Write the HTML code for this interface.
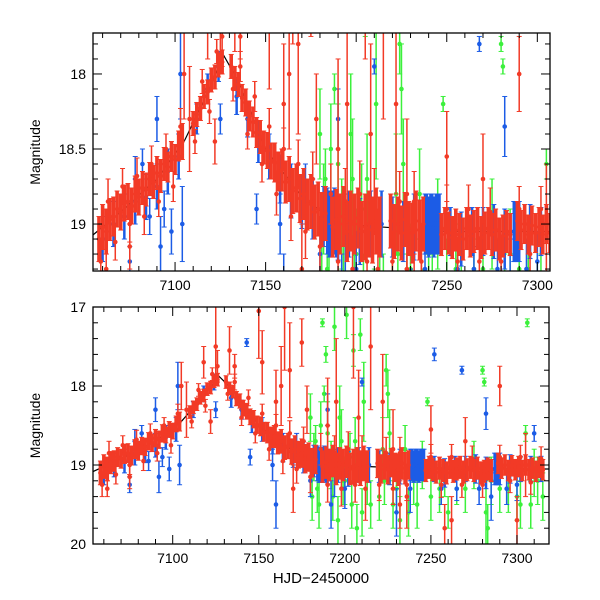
<!DOCTYPE html>
<html><head><meta charset="utf-8">
<style>
html,body{margin:0;padding:0;background:#fff;}
svg{display:block;font-family:"Liberation Sans",sans-serif;}
</style></head>
<body>
<svg id="chart" width="600" height="600" viewBox="0 0 600 600"></svg>
<script>
// ---- data ----
const redT=[7058,7060,7062,7064,7066,7068,7070,7072,7074,7076,7078,7080,7082,7084,7086,7088,7090,7092,7094,7096,7098,7100,7102,7104,
7110,7112,7114,7116,7118,7120,7122,7124,7126,
7131,7133,7135,7137,7139,7141,7143,7145,7147,7149,7151,7153,7155,7157,7159,7161,7163,7165,7167,7169,7171,7173,7175,7177,7179,7181,7183,
7187,7189,7191,7193,7195,7197,7199,7201,7203,7205,7207,7209,7211,7213,
7219,7221,7223,7225,7227,7229,7231,7233,7235,7237,
7247,7249,7251,7253,7255,7257,7259,7261,7263,7265,7267,7269,7271,7273,7275,7277,7279,7281,7283,7285,
7289,7291,7293,7295,7297,7299,7301,7303,7305,7307,7309,7311,7313,7315];
const redM=[19.1,19.02,19.05,18.97,18.95,18.9,18.92,18.86,18.85,18.88,18.8,18.82,18.76,18.77,18.7,18.72,18.66,18.68,18.6,18.62,18.55,18.57,18.48,18.45,
18.33,18.27,18.23,18.15,18.12,18.04,18.02,17.94,17.92,
17.95,18.03,18.07,18.16,18.19,18.28,18.32,18.39,18.42,18.49,18.51,18.58,18.59,18.65,18.64,18.72,18.7,18.78,18.76,18.83,18.8,18.87,18.85,18.92,18.9,18.97,18.93,
19.02,18.97,19.0,18.95,19.05,18.98,19.0,18.96,19.05,19.02,19.0,19.04,18.98,19.02,
18.98,19.05,19.0,19.06,18.97,19.03,19.06,18.98,19.04,19.0,
19.07,19.03,19.06,19.09,19.04,19.07,19.1,19.03,19.08,19.05,19.03,19.09,19.06,19.03,19.07,19.04,19.1,19.08,19.05,19.07,
18.98,19.04,19.0,19.07,19.01,19.06,19.02,19.07,19.0,19.06,19.04,19.08,19.03,19.06];
const redE=[0.15,0.15,0.15,0.14,0.13,0.12,0.12,0.12,0.12,0.12,0.12,0.12,0.11,0.11,0.11,0.11,0.11,0.11,0.11,0.1,0.1,0.1,0.1,0.12,
0.08,0.08,0.08,0.08,0.08,0.08,0.08,0.08,0.08,
0.08,0.08,0.08,0.09,0.09,0.1,0.1,0.1,0.11,0.11,0.12,0.12,0.13,0.13,0.14,0.14,0.15,0.15,0.16,0.16,0.17,0.17,0.18,0.18,0.18,0.18,0.18,
0.2,0.2,0.2,0.2,0.2,0.2,0.2,0.2,0.2,0.22,0.22,0.22,0.22,0.2,
0.18,0.18,0.18,0.18,0.18,0.18,0.2,0.2,0.2,0.18,
0.14,0.14,0.14,0.14,0.14,0.14,0.14,0.14,0.14,0.14,0.14,0.14,0.14,0.14,0.14,0.14,0.14,0.14,0.14,0.14,
0.13,0.13,0.13,0.13,0.13,0.13,0.13,0.13,0.13,0.13,0.13,0.13,0.13,0.13];
const red2T=[7059,7063,7067,7071,7075,7079,7083,7087,7091,7095,7099,7103,7111,7115,7119,7123,7132,7136,7140,7144,7148,7152,7156,7160,7164,7168,7172,7176,7180,7186,7190,7194,7198,7202,7206,7210,7220,7224,7228,7232,7236,7250,7256,7262,7268,7274,7280,7290,7296,7302,7308,7314];
const red2M=[19.25,18.85,19.12,18.75,19.0,18.68,18.95,18.6,18.85,18.5,18.75,18.35,18.45,18.05,18.25,17.85,18.1,17.95,18.4,18.15,18.6,18.35,18.8,18.5,18.95,18.6,19.05,18.7,19.15,18.8,19.25,18.85,19.3,18.8,19.25,18.85,19.25,18.85,19.3,18.85,19.25,18.9,19.25,18.9,19.25,18.92,19.25,18.9,19.2,18.9,19.22,18.92];
const red2E=[0.15,0.15,0.12,0.12,0.12,0.12,0.12,0.12,0.1,0.1,0.1,0.12,0.08,0.08,0.08,0.08,0.08,0.1,0.1,0.1,0.12,0.12,0.14,0.14,0.16,0.16,0.18,0.18,0.2,0.2,0.22,0.22,0.22,0.22,0.22,0.22,0.2,0.2,0.2,0.2,0.2,0.16,0.16,0.16,0.16,0.16,0.16,0.15,0.15,0.15,0.15,0.15];
const redOut=[[7062,19.3,0.1],[7075,19.15,0.15],[7105,18.0,0.3],[7108,18.3,0.35],[7118,17.7,0.2],[7122,18.45,0.15],[7125,17.5,0.5],[7126,17.75,0.2],[7133,17.55,0.3],[7136,17.75,0.15],[7150,17.05,0.6],[7152,17.7,0.4],[7160,18.2,0.4],[7163,18.0,0.5],[7165,17.0,0.8],[7168,17.8,0.6],[7175,17.45,0.3],[7178,18.3,0.3],[7190,18.5,0.6],[7195,18.2,0.8],[7205,17.0,0.9],[7208,18.4,0.6],[7215,17.5,0.8],[7222,18.2,0.6],[7228,18.8,0.5],[7236,19.4,0.4],[7250,18.55,0.3],[7258,19.8,0.3],[7262,19.7,0.3],[7290,18.0,0.25],[7300,19.7,0.3],[7305,19.0,0.4],[7170,19.3,0.3],[7212,19.3,0.4],[7232,19.5,0.3],[7270,18.7,0.3]];
const blueT=[7060,7066,7072,7078,7084,7090,7096,7102,7112,7118,7124,7134,7140,7146,7152,7158,7164,7170,7176,7182,7184,7185,7186,7187,7188,7189,7190,7196,7202,7208,7214,7220,7226,7232,7238,7239,7240,7241,7242,7243,7244,7245,7246,7252,7258,7264,7270,7276,7282,7287,7288,7289,7290,7296,7302,7308,7314];
const blueM=[19.1,19.0,18.95,18.85,18.82,18.75,18.65,18.55,18.3,18.1,17.95,18.15,18.3,18.45,18.55,18.7,18.78,18.85,18.9,18.95,18.98,19.0,19.0,19.0,18.98,19.0,19.02,19.0,19.05,19.0,19.0,19.02,19.05,19.02,19.0,19.0,19.02,19.0,19.0,19.02,19.0,19.0,19.0,19.05,19.1,19.05,19.05,19.05,19.1,19.05,19.05,19.05,19.05,19.05,19.05,19.05,19.05];
const blueE=[0.15,0.15,0.15,0.15,0.15,0.15,0.15,0.15,0.1,0.1,0.1,0.12,0.12,0.14,0.15,0.16,0.18,0.18,0.2,0.2,0.22,0.22,0.22,0.22,0.22,0.22,0.22,0.22,0.22,0.22,0.22,0.2,0.2,0.22,0.2,0.2,0.2,0.2,0.2,0.2,0.2,0.2,0.2,0.16,0.18,0.16,0.16,0.18,0.2,0.2,0.2,0.2,0.2,0.18,0.16,0.16,0.16];
const blueOut=[[7075,19.25,0.1],[7078,18.7,0.15],[7082,18.6,0.1],[7090,18.3,0.15],[7092,19.15,0.2],[7103,18.0,0.3],[7104,19.0,0.25],[7125,18.3,0.1],[7143,17.45,0.05],[7145,18.9,0.1],[7158,19.0,0.2],[7160,19.5,0.3],[7172,18.8,0.2],[7190,18.3,0.2],[7194,19.1,0.3],[7210,17.95,0.05],[7238,19.3,0.3],[7252,17.6,0.08],[7268,17.8,0.05],[7282,18.35,0.2],[7285,19.4,0.3],[7310,18.6,0.1],[7200,19.3,0.25],[7180,19.2,0.2],[7265,19.3,0.15],[7278,19.3,0.2],[7086,18.95,0.12],[7094,18.9,0.12],[7098,19.05,0.15],[7192,19.5,0.3],[7230,19.6,0.3],[7256,19.3,0.2],[7294,19.3,0.2],[7300,19.25,0.2]];
const greenOut=[[7180,18.4,0.3],[7181,19.4,0.3],[7183,18.7,0.2],[7185,19.5,0.3],[7187,17.2,0.05],[7188,18.1,0.1],[7189,17.6,0.1],[7190,18.6,0.4],[7192,19.0,0.3],[7194,17.25,0.3],[7196,19.7,0.3],[7198,18.7,0.4],[7199,19.2,0.3],[7201,17.1,0.3],[7203,18.9,0.3],[7205,17.55,0.2],[7207,19.8,0.3],[7209,17.35,0.2],[7211,18.2,0.5],[7213,19.2,0.3],[7220,19.4,0.3],[7222,18.8,0.4],[7224,17.8,0.2],[7225,18.1,0.3],[7228,19.5,0.3],[7232,19.7,0.3],[7235,18.8,0.3],[7240,19.2,0.3],[7245,19.0,0.3],[7248,18.2,0.05],[7255,19.3,0.3],[7260,19.6,0.2],[7270,19.3,0.3],[7275,19.0,0.3],[7280,17.8,0.05],[7281,17.95,0.05],[7282,19.6,0.4],[7285,19.2,0.3],[7295,19.3,0.3],[7300,19.4,0.3],[7305,18.6,0.1],[7306,17.2,0.05],[7308,19.5,0.3],[7312,19.2,0.3],[7315,19.4,0.3],[7200,19.2,0.3],[7215,19.5,0.3],[7250,19.4,0.3],[7182,18.9,0.3],[7184,19.3,0.3],[7186,18.5,0.3],[7193,19.4,0.3],[7197,18.4,0.4],[7204,19.5,0.3],[7206,18.7,0.3],[7210,19.6,0.3],[7223,19.2,0.3],[7226,18.6,0.3],[7230,19.3,0.3],[7237,19.6,0.3],[7242,19.5,0.3],[7258,19.2,0.2],[7265,19.3,0.2],[7283,19.8,0.3],[7290,19.3,0.3],[7302,19.5,0.3],[7310,19.1,0.3]];
const curveT=[7050,7070,7090,7105,7115,7127,7135,7150,7170,7190,7250,7320];
const curveM=[19.12,18.92,18.7,18.45,18.2,17.88,18.05,18.5,18.82,19.0,19.05,19.05];
const xTicks=[7100,7150,7200,7250,7300];
const yTicksTop=[18,18.5,19];
const yTicksBot=[17,18,19,20];

// ---- drawing ----
const NS="http://www.w3.org/2000/svg";
const svg=document.getElementById('chart');
function mk(tag,attrs,parent){const e=document.createElementNS(NS,tag);for(const k in attrs)e.setAttribute(k,attrs[k]);(parent||svg).appendChild(e);return e;}
const RED="#f23a26",BLUE="#1c5ce6",GREEN="#3cf03c";

function panel(cfg){
  const {L,R,T,B,x0,x1,y0,y1,id,yTicks,minorY,majorY}=cfg;
  const X=t=>L+(t-x0)/(x1-x0)*(R-L);
  const Y=m=>T+(m-y0)/(y1-y0)*(B-T);
  const g=mk('g',{});
  
  
  const cp=mk('clipPath',{id:id+'-clip'},g);mk('rect',{x:L,y:T,width:R-L,height:B-T},cp);
  const plot=mk('g',{'clip-path':'url(#'+id+'-clip)'},g);
  
  
  let d='';curveT.forEach((t,i)=>{d+=(i?'L':'M')+X(t).toFixed(1)+','+Y(curveM[i]).toFixed(1);});
  const cv=mk('path',{d:d,fill:'none',stroke:'#000','stroke-width':1.2},plot);
  
  
  function pt(t,m,e,col,w,name){
    const gg=mk('g',{},plot);
    
    
    const x=X(t),ya=Y(m-e),yb=Y(m+e);
    mk('line',{x1:x,x2:x,y1:ya,y2:yb,stroke:col,'stroke-width':w},gg);
    mk('line',{x1:x-2.5,x2:x+2.5,y1:ya,y2:ya,stroke:col,'stroke-width':1},gg);
    mk('line',{x1:x-2.5,x2:x+2.5,y1:yb,y2:yb,stroke:col,'stroke-width':1},gg);
    mk('circle',{cx:x,cy:Y(m),r:2.3,fill:col},gg);
  }
  greenOut.forEach(p=>pt(p[0],p[1],p[2],GREEN,1.5,'green-point'));
  blueT.forEach((t,i)=>pt(t,blueM[i],blueE[i],BLUE,2.5,'blue-point'));
  blueOut.forEach(p=>pt(p[0],p[1],p[2],BLUE,1.5,'blue-point'));
  red2T.forEach((t,i)=>pt(t,red2M[i],red2E[i],RED,1.5,'red-point'));
  redT.forEach((t,i)=>pt(t,redM[i],redE[i],RED,3.6,'red-point'));
  redOut.forEach(p=>pt(p[0],p[1],p[2],RED,1.5,'red-point'));
  const fr=mk('rect',{x:L,y:T,width:R-L,height:B-T,fill:'none',stroke:'#000','stroke-width':1.3},g);
  
  
  for(let t=7060;t<=x1;t+=10){
    const x=X(t);if(x<L||x>R)continue;
    const len=(t%50===0)?9:5;
    mk('line',{x1:x,x2:x,y1:B,y2:B-len,stroke:'#000','stroke-width':1},g);
    mk('line',{x1:x,x2:x,y1:T,y2:T+len,stroke:'#000','stroke-width':1},g);
  }
  xTicks.forEach(t=>{
    const tx=mk('text',{x:X(t),y:B+19,'text-anchor':'middle','font-size':14,fill:'#000'},g);
    tx.textContent=t;
    
    
  });
  const s0=Math.ceil(y0/minorY-1e-6)*minorY;
  for(let m=s0;m<=y1+1e-6;m+=minorY){
    const y=Y(m);
    const isMaj=Math.abs(m/majorY-Math.round(m/majorY))<1e-6;
    const len=isMaj?9:5;
    mk('line',{x1:L,x2:L+len,y1:y,y2:y,stroke:'#000','stroke-width':1},g);
    mk('line',{x1:R,x2:R-len,y1:y,y2:y,stroke:'#000','stroke-width':1},g);
  }
  yTicks.forEach(m=>{
    const tx=mk('text',{x:L-7,y:Y(m)+5,'text-anchor':'end','font-size':14,fill:'#000'},g);
    tx.textContent=m;
    
    
  });
  const yl=mk('text',{x:0,y:0,'text-anchor':'middle','font-size':14,fill:'#000',transform:'translate(40,'+((T+B)/2)+') rotate(-90)'},g);
  yl.textContent='Magnitude';
  
  
}
panel({id:'top',L:93,R:550,T:33,B:271,x0:7054.7,x1:7307,y0:17.727,y1:19.313,yTicks:yTicksTop,minorY:0.1,majorY:0.5});
panel({id:'bottom',L:93,R:549,T:307,B:544,x0:7053.7,x1:7318.6,y0:17,y1:20,yTicks:yTicksBot,minorY:0.2,majorY:1});
const xl=mk('text',{x:321,y:583,'text-anchor':'middle','font-size':15,fill:'#000'});
xl.textContent='HJD\u22122450000';


</script>
</body></html>
